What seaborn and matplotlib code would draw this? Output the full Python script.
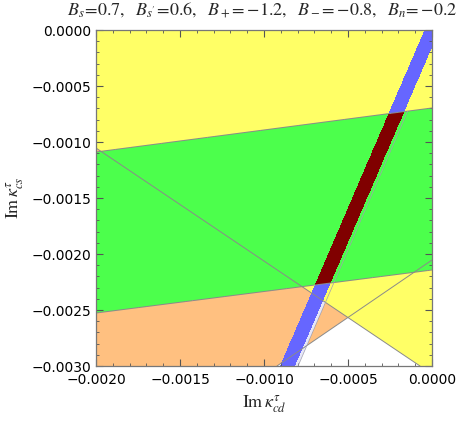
import numpy as np
import matplotlib
matplotlib.use("Agg")
import matplotlib.pyplot as plt
import seaborn as sns
from matplotlib.colors import ListedColormap
from matplotlib.ticker import MultipleLocator, FuncFormatter

# ---------------- data ----------------
x_range = [-0.0020, 0.0]
y_range = [-0.0030, 0.0]
# green band: edge y-values at x = -0.002 and x = 0
green_upper = [-0.001089, -0.000696]
green_lower = [-0.002527, -0.002143]
# blue band: edge x-values at y = -0.003 and y = 0
blue_left = [-0.000905, -0.0000446]
blue_right = [-0.000815, 0.0000446]
strip_right = [-0.000797, 0.0000626]
# crossing boundary lines (two points each)
lineA_x = [-0.0020, -0.0000714]
lineA_y = [-0.0010536, -0.0030]
lineB_x = [-0.0009226, 0.0]
lineB_y = [-0.0030, -0.0020536]

title = r"$B_s\!=\!0.7,\ \ B_{s^{\prime}}\!=\!0.6,\ \ B_+\!=-1.2,\ \ B_-\!=-0.8,\ \ B_n\!=-0.2$"
xlabel = r"$\mathrm{Im}\,\kappa^{\tau}_{cd}$"
ylabel = r"$\mathrm{Im}\,\kappa^{\tau}_{cs}$"

colors = ["#FFFF66", "#FFC080", "#FFFFFF", "#4CFF4C", "#6666FF", "#800000", "#E6E6F8"]

# ---------------- figure ----------------
sns.set_theme(style="ticks")
plt.rcParams["font.family"] = ["DejaVu Sans"]
plt.rcParams["mathtext.fontset"] = "stix"

fig = plt.figure(figsize=(4.58, 4.26), dpi=100)
ax = fig.add_axes([96 / 458, 1 - 366 / 426, 336 / 458, 336 / 426])


def lin(p0, p1, q0, q1, v):
    return q0 + (q1 - q0) / (p1 - p0) * (v - p0)


n = 1400
xs = np.linspace(x_range[0], x_range[1], n)
ys = np.linspace(y_range[0], y_range[1], n)
X, Y = np.meshgrid(xs, ys)

gu = lin(x_range[0], x_range[1], green_upper[0], green_upper[1], X)
gl = lin(x_range[0], x_range[1], green_lower[0], green_lower[1], X)
in_green = (Y <= gu) & (Y >= gl)
bl = lin(y_range[0], y_range[1], blue_left[0], blue_left[1], Y)
br = lin(y_range[0], y_range[1], blue_right[0], blue_right[1], Y)
sr = lin(y_range[0], y_range[1], strip_right[0], strip_right[1], Y)
in_blue = (X >= bl) & (X <= br)
in_strip = (X > br) & (X <= sr)
yA = lin(lineA_x[0], lineA_x[1], lineA_y[0], lineA_y[1], X)
yB = lin(lineB_x[0], lineB_x[1], lineB_y[0], lineB_y[1], X)
aboveA = Y >= yA
aboveB = Y >= yB

code = np.zeros_like(X, dtype=int)
code[~aboveA & aboveB] = 1
code[~aboveA & ~aboveB] = 2
code[in_strip & ~in_green & ~aboveA] = 6
code[in_green] = 3
code[in_blue & ~in_green] = 4
code[in_blue & in_green] = 5

ax.imshow(code, origin="lower", extent=[x_range[0], x_range[1], y_range[0], y_range[1]],
          aspect="auto", interpolation="nearest", cmap=ListedColormap(colors),
          vmin=-0.5, vmax=len(colors) - 0.5, zorder=0)

# where the thin strip edge meets the upper green edge
sx = (strip_right[1] - strip_right[0]) / (y_range[1] - y_range[0])
gy = (green_upper[1] - green_upper[0]) / (x_range[1] - x_range[0])
A = np.array([[1.0, -sx], [-gy, 1.0]])
b = np.array([strip_right[0] - sx * y_range[0], green_upper[0] - gy * x_range[0]])
xi, yi = np.linalg.solve(A, b)

lc = "#8a8a8a"
sns.lineplot(x=x_range, y=green_upper, ax=ax, color=lc, lw=0.7, estimator=None)
sns.lineplot(x=x_range, y=green_lower, ax=ax, color=lc, lw=0.7, estimator=None)
sns.lineplot(x=lineA_x, y=lineA_y, ax=ax, color=lc, lw=0.7, estimator=None)
sns.lineplot(x=lineB_x, y=lineB_y, ax=ax, color=lc, lw=0.7, estimator=None)
sns.lineplot(x=[strip_right[0], xi], y=[y_range[0], yi], ax=ax, color="#a0a0b0", lw=0.5,
             estimator=None, sort=False)

ax.set_xlim(x_range)
ax.set_ylim(y_range)

fmt = FuncFormatter(lambda v, p: "0.0000" if abs(v) < 1e-9 else f"{v:.4f}".replace("-", "\u2212"))
ax.xaxis.set_major_locator(MultipleLocator(0.0005))
ax.yaxis.set_major_locator(MultipleLocator(0.0005))
ax.xaxis.set_minor_locator(MultipleLocator(0.0001))
ax.yaxis.set_minor_locator(MultipleLocator(0.0001))
ax.xaxis.set_major_formatter(fmt)
ax.yaxis.set_major_formatter(fmt)
ax.tick_params(which="both", direction="in", top=True, right=True, colors="#555555",
               labelcolor="black", labelsize=10)
ax.tick_params(which="major", length=5, width=0.8)
ax.tick_params(which="minor", length=2.5, width=0.6)
ax.tick_params(axis="x", which="major", pad=5)
for s in ax.spines.values():
    s.set_color("#777777")
    s.set_linewidth(0.9)

ax.set_xlabel("")
ax.set_ylabel("")
fig.text(264 / 458, 1 - 404 / 426, xlabel, ha="center", va="center", fontsize=13)
fig.text(15 / 458, 1 - 198 / 426, ylabel, ha="center", va="center", rotation=90, fontsize=13)
fig.text(262 / 458, 1 - 10 / 426, title, ha="center", va="center", fontsize=13)

fig.savefig("out.png", dpi=100)
